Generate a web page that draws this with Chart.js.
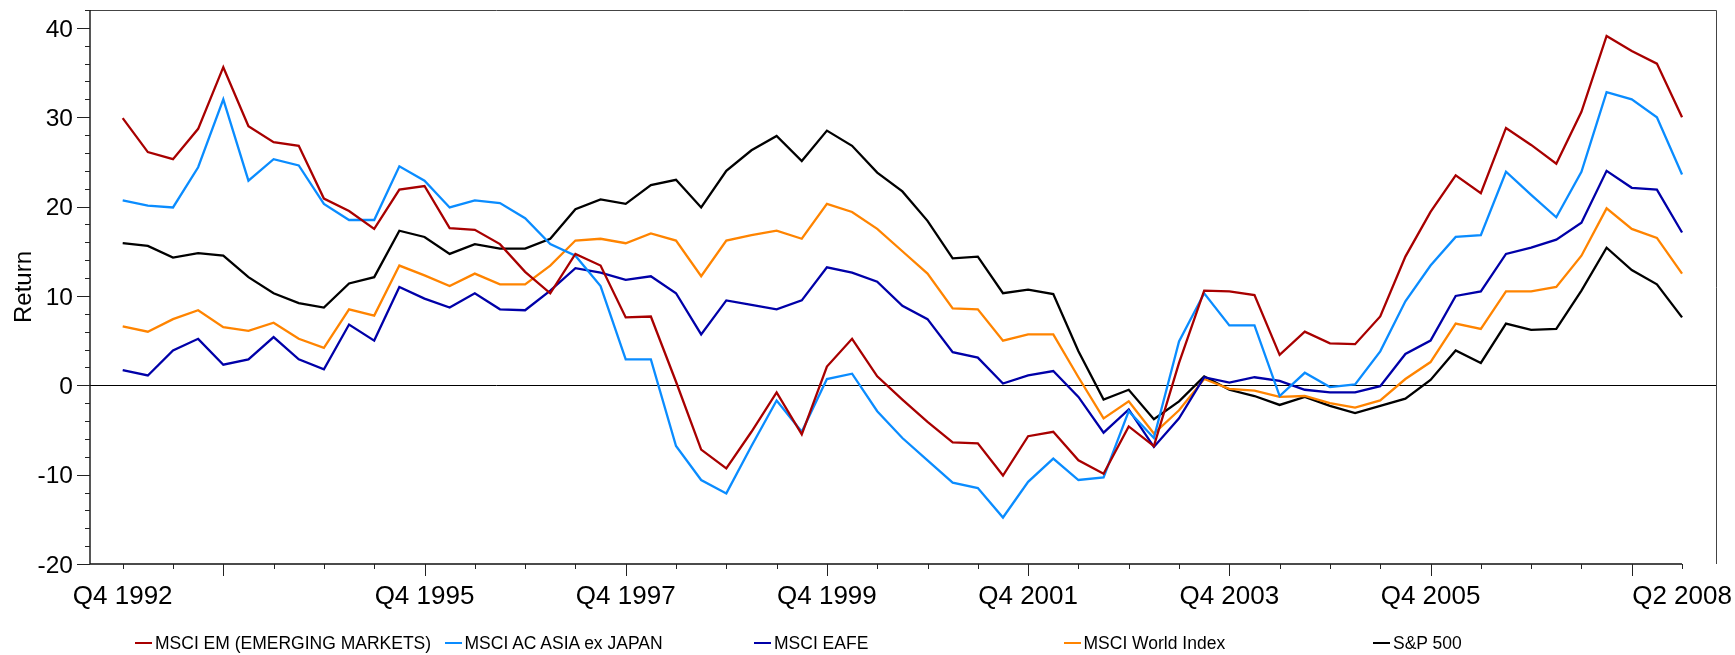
<!DOCTYPE html>
<html>
<head>
<meta charset="utf-8">
<script src="https://cdn.jsdelivr.net/npm/chart.js@4.4.1/dist/chart.umd.min.js"></script>
<style>
  html, body { margin: 0; padding: 0; background: #fff; }
  #wrap { position: relative; width: 1735px; height: 655px; }
  #legend {
    position: absolute; left: 135px; top: 633px; display: flex;
    font-family: 'Liberation Sans', Arial, sans-serif; font-size: 17.5px; line-height: 20px; color: #000;
  }
  .item { width: 309.5px; display: flex; align-items: center; white-space: nowrap; }
  .swatch { width: 17px; height: 2px; margin-right: 3px; }
</style>
</head>
<body>
<div id="wrap">
  <canvas id="returnsChart" width="1735" height="655"></canvas>
  <div id="legend"></div>
</div>
<script>
// Series names and colours (legend order)
const seriesNames = ['MSCI EM (EMERGING MARKETS)', 'MSCI AC ASIA ex JAPAN', 'MSCI EAFE', 'MSCI World Index', 'S&P 500'];
const seriesColors = ['#a80000', '#0a8cff', '#0000a8', '#ff8400', '#000000'];

// Quarterly returns, Q4 1992 .. Q2 2008 (63 points)
const emReturns = [
  29.9, 26.1, 25.3, 28.7, 35.6, 29.0, 27.2, 26.8, 20.9, 19.5,
  17.5, 21.9, 22.3, 17.6, 17.4, 15.8, 12.7, 10.3, 14.7, 13.4,
  7.6, 7.7, 0.4, -7.2, -9.3, -5.2, -0.8, -5.5, 2.1, 5.2,
  1.0, -1.6, -4.1, -6.4, -6.5, -10.1, -5.7, -5.2, -8.4, -9.9,
  -4.6, -6.8, 2.5, 10.6, 10.5, 10.1, 3.4, 6.0, 4.7, 4.6,
  7.7, 14.4, 19.4, 23.5, 21.5, 28.8, 26.9, 24.8, 30.6, 39.1,
  37.4, 36.0, 30.0
];
const asiaReturns = [
  20.7, 20.1, 19.9, 24.4, 32.0, 22.9, 25.3, 24.6, 20.3, 18.5,
  18.5, 24.5, 22.9, 19.9, 20.7, 20.4, 18.7, 15.8, 14.5, 11.1,
  2.9, 2.9, -6.8, -10.6, -12.1, -6.8, -1.7, -5.2, 0.7, 1.3,
  -2.9, -5.9, -8.4, -10.9, -11.5, -14.8, -10.8, -8.2, -10.6, -10.3,
  -2.9, -5.9, 4.9, 10.3, 6.7, 6.7, -1.2, 1.4, -0.2, 0.1,
  3.8, 9.4, 13.4, 16.6, 16.8, 23.9, 21.3, 18.8, 23.9, 32.8,
  32.0, 30.0, 23.6
];
const eafeReturns = [
  1.7, 1.1, 3.9, 5.2, 2.3, 2.9, 5.4, 2.9, 1.8, 6.8,
  5.0, 11.0, 9.7, 8.7, 10.3, 8.5, 8.4, 10.6, 13.1, 12.6,
  11.8, 12.2, 10.3, 5.7, 9.5, 9.0, 8.5, 9.5, 13.2, 12.6,
  11.6, 8.9, 7.4, 3.7, 3.1, 0.2, 1.1, 1.6, -1.3, -5.3,
  -2.7, -6.9, -3.7, 0.9, 0.3, 0.9, 0.5, -0.5, -0.8, -0.8,
  -0.1, 3.5, 5.0, 10.0, 10.5, 14.7, 15.4, 16.3, 18.2, 24.0,
  22.1, 21.9, 17.1
];
const worldReturns = [
  6.6, 6.0, 7.4, 8.4, 6.5, 6.1, 7.0, 5.2, 4.2, 8.5,
  7.8, 13.4, 12.3, 11.1, 12.5, 11.3, 11.3, 13.4, 16.2, 16.4,
  15.9, 17.0, 16.2, 12.2, 16.2, 16.8, 17.3, 16.4, 20.3, 19.4,
  17.5, 15.0, 12.5, 8.6, 8.5, 5.0, 5.7, 5.7, 0.9, -3.7,
  -1.8, -5.4, -2.8, 0.7, -0.4, -0.6, -1.3, -1.2, -2.0, -2.5,
  -1.7, 0.7, 2.6, 6.9, 6.3, 10.5, 10.5, 11.0, 14.5, 19.8,
  17.5, 16.5, 12.5
];
const spReturns = [
  15.9, 15.6, 14.3, 14.8, 14.5, 12.1, 10.3, 9.2, 8.7, 11.4,
  12.1, 17.3, 16.6, 14.7, 15.8, 15.3, 15.3, 16.4, 19.7, 20.8,
  20.3, 22.4, 23.0, 19.9, 24.0, 26.3, 27.9, 25.1, 28.5, 26.8,
  23.8, 21.7, 18.4, 14.2, 14.4, 10.3, 10.7, 10.2, 3.8, -1.6,
  -0.5, -3.8, -1.8, 1.0, -0.5, -1.2, -2.2, -1.3, -2.3, -3.1,
  -2.3, -1.5, 0.6, 3.9, 2.5, 6.9, 6.2, 6.3, 10.6, 15.4,
  12.9, 11.3, 7.6
];

// Axis ticks (index into the quarterly series)
const xTickIndex = [0, 12, 20, 28, 36, 44, 52, 62];
const xTickText = ['Q4 1992', 'Q4 1995', 'Q4 1997', 'Q4 1999', 'Q4 2001', 'Q4 2003', 'Q4 2005', 'Q2 2008'];
const xLongTickIndex = [4, 12, 20, 28, 36, 44, 52, 60];
const yTickValues = [-20, -10, 0, 10, 20, 30, 40];

const allSeries = [emReturns, asiaReturns, eafeReturns, worldReturns, spReturns];
const fontFamily = "'Liberation Sans', Arial, sans-serif";
Chart.defaults.font.family = fontFamily;
Chart.defaults.color = '#000';

// Zero line, axes, frame and tick marks
const frameAndTicks = {
  id: 'frameAndTicks',
  beforeDatasetsDraw(chart) {
    const { ctx, chartArea: a, scales: { y } } = chart;
    const y0 = Math.round(y.getPixelForValue(0)) + 0.5;
    ctx.save();
    ctx.strokeStyle = '#000';
    ctx.lineWidth = 1;
    ctx.beginPath();
    ctx.moveTo(a.left, y0);
    ctx.lineTo(a.right, y0);
    ctx.stroke();
    ctx.restore();
  },
  afterDraw(chart) {
    const { ctx, chartArea: a, scales: { x, y } } = chart;
    ctx.save();
    // top + right border
    ctx.strokeStyle = '#444';
    ctx.lineWidth = 1;
    ctx.beginPath();
    ctx.moveTo(a.left, a.top + 0.5);
    ctx.lineTo(a.right + 0.5, a.top + 0.5);
    ctx.lineTo(a.right + 0.5, a.bottom);
    ctx.stroke();
    // left and bottom axes
    ctx.strokeStyle = '#111';
    ctx.lineWidth = 1.4;
    const lastX = x.getPixelForValue(62);
    ctx.beginPath();
    ctx.moveTo(a.left, a.top);
    ctx.lineTo(a.left, a.bottom);
    ctx.lineTo(lastX, a.bottom);
    ctx.stroke();
    // tick marks
    ctx.lineWidth = 1;
    ctx.strokeStyle = '#222';
    ctx.beginPath();
    for (let v = -20; v <= 42; v += 2) {
      const py = Math.round(y.getPixelForValue(v)) + 0.5;
      const len = v % 10 === 0 ? 13 : 5;
      ctx.moveTo(a.left - len, py);
      ctx.lineTo(a.left, py);
    }
    for (let i = 0; i <= 62; i += 2) {
      const px = Math.round(x.getPixelForValue(i)) + 0.5;
      const len = xLongTickIndex.includes(i) ? 12 : 5;
      ctx.moveTo(px, a.bottom);
      ctx.lineTo(px, a.bottom + len);
    }
    ctx.stroke();
    ctx.restore();
  }
};

const ctx = document.getElementById('returnsChart').getContext('2d');
new Chart(ctx, {
  type: 'line',
  data: {
    datasets: allSeries.map((values, s) => ({
      label: seriesNames[s],
      data: values.map((v, i) => ({ x: i, y: v })),
      borderColor: seriesColors[s],
      backgroundColor: seriesColors[s],
      borderWidth: 2.3,
      pointRadius: 0,
      tension: 0,
      fill: false
    }))
  },
  options: {
    responsive: false,
    animation: false,
    layout: { padding: { top: 10, right: 19, left: 0, bottom: 0 } },
    plugins: { legend: { display: false }, tooltip: { enabled: false } },
    scales: {
      x: {
        type: 'linear',
        min: -1.3,
        max: 63.35,
        grid: { display: false, drawTicks: false },
        border: { display: false },
        afterBuildTicks: s => { s.ticks = xTickIndex.map(v => ({ value: v })); },
        afterFit: s => { s.height = 91; s.paddingLeft = 0; s.paddingRight = 0; },
        ticks: {
          autoSkip: false, maxRotation: 0, minRotation: 0, padding: 17,
          font: { size: 26 },
          callback: v => xTickText[xTickIndex.indexOf(v)]
        }
      },
      y: {
        min: -20,
        max: 42,
        grid: { display: false, drawTicks: false },
        border: { display: false },
        afterBuildTicks: s => { s.ticks = yTickValues.map(v => ({ value: v })); },
        afterFit: s => { s.width = 90; s.paddingTop = 0; s.paddingBottom = 0; },
        title: { display: true, text: 'Return', font: { size: 24 }, padding: { top: 10, bottom: 0 } },
        ticks: { padding: 17, labelOffset: 2, font: { size: 24.5 }, callback: v => String(v) }
      }
    }
  },
  plugins: [frameAndTicks]
});

// HTML legend built from the series arrays
const legendEl = document.getElementById('legend');
seriesNames.forEach((name, s) => {
  const item = document.createElement('div');
  item.className = 'item';
  const sw = document.createElement('span');
  sw.className = 'swatch';
  sw.style.background = seriesColors[s];
  const tx = document.createElement('span');
  tx.textContent = name;
  item.appendChild(sw);
  item.appendChild(tx);
  legendEl.appendChild(item);
});
</script>
</body>
</html>
